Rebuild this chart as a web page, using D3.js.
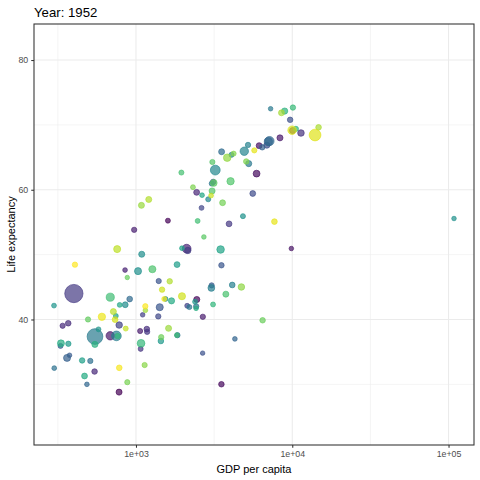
<!DOCTYPE html>
<html>
<head>
<meta charset="utf-8">
<script src="https://cdn.jsdelivr.net/npm/d3@7"></script>
<style>
  body { margin: 0; background: #fff; }
  svg { display: block; font-family: "Liberation Sans", Arial, sans-serif; }
</style>
</head>
<body>
<div id="chart"></div>
<script>
// gapminder, year 1952 (countries in alphabetical order)
var countries = ["Afghanistan","Albania","Algeria","Angola","Argentina","Australia","Austria","Bahrain","Bangladesh","Belgium",
  "Benin","Bolivia","Bosnia and Herzegovina","Botswana","Brazil","Bulgaria","Burkina Faso","Burundi","Cambodia","Cameroon",
  "Canada","Central African Republic","Chad","Chile","China","Colombia","Comoros","Congo, Dem. Rep.","Congo, Rep.","Costa Rica",
  "Cote d'Ivoire","Croatia","Cuba","Czech Republic","Denmark","Djibouti","Dominican Republic","Ecuador","Egypt","El Salvador",
  "Equatorial Guinea","Eritrea","Ethiopia","Finland","France","Gabon","Gambia","Germany","Ghana","Greece",
  "Guatemala","Guinea","Guinea-Bissau","Haiti","Honduras","Hong Kong, China","Hungary","Iceland","India","Indonesia",
  "Iran","Iraq","Ireland","Israel","Italy","Jamaica","Japan","Jordan","Kenya","Korea, Dem. Rep.",
  "Korea, Rep.","Kuwait","Lebanon","Lesotho","Liberia","Libya","Madagascar","Malawi","Malaysia","Mali",
  "Mauritania","Mauritius","Mexico","Mongolia","Montenegro","Morocco","Mozambique","Myanmar","Namibia","Nepal",
  "Netherlands","New Zealand","Nicaragua","Niger","Nigeria","Norway","Oman","Pakistan","Panama","Paraguay",
  "Peru","Philippines","Poland","Portugal","Puerto Rico","Reunion","Romania","Rwanda","Sao Tome and Principe","Saudi Arabia",
  "Senegal","Serbia","Sierra Leone","Singapore","Slovak Republic","Slovenia","Somalia","South Africa","Spain","Sri Lanka",
  "Sudan","Swaziland","Sweden","Switzerland","Syria","Taiwan","Tanzania","Thailand","Togo","Trinidad and Tobago",
  "Tunisia","Turkey","Uganda","United Kingdom","United States","Uruguay","Venezuela","Vietnam","West Bank and Gaza","Yemen, Rep.",
  "Zambia","Zimbabwe"];

var gdpPercap = [779.4,1601.1,2449.0,3520.6,5911.3,10039.6,6137.1,9867.1,684.2,8343.1,
  1062.8,2677.3,973.5,851.2,2108.9,2444.3,543.3,339.3,368.5,1172.7,
  11367.2,1071.3,1178.7,3940.0,400.4,2144.1,1103.0,780.5,2125.6,2627.0,
  1388.6,3119.2,5586.5,6876.1,9692.4,2669.5,1397.7,3522.1,1418.8,3048.3,
  375.6,328.9,362.1,6424.5,7029.8,4293.5,485.2,7144.1,911.3,3530.7,
  2428.2,510.2,299.9,1840.4,2194.9,3054.4,5263.7,7267.7,546.6,749.7,
  3035.3,4129.8,5210.3,4086.5,4931.4,2898.5,3217.0,1546.9,853.5,1088.3,
  1030.6,108382.4,4834.8,298.8,575.6,2387.5,1443.0,369.2,1831.1,452.3,
  743.1,1968.0,3478.1,786.6,2647.6,1688.2,468.5,331.0,2423.8,545.9,
  8941.6,10556.6,3112.4,761.9,1077.3,10095.4,1828.2,684.6,2480.4,1952.3,
  3758.5,1272.9,4029.3,3068.3,3082.0,2718.9,3144.6,493.3,879.6,6459.6,
  1450.4,3581.5,879.8,2315.1,5074.7,4215.0,1135.7,4725.3,3834.0,1083.5,
  1616.0,1148.4,8527.8,14734.2,1643.5,1206.9,716.7,757.8,859.8,3023.3,
  1468.5,1969.1,734.8,9979.5,13990.5,5716.8,7689.8,605.1,1515.6,781.7,
  1147.4,406.9];

var lifeExp = [28.801,55.23,43.077,30.015,62.485,69.12,66.8,50.939,37.484,68.0,
  38.223,40.414,53.82,47.622,50.917,59.6,31.975,39.031,39.417,38.523,
  68.75,35.463,38.092,54.745,44.0,50.643,40.715,39.143,42.111,57.206,
  40.477,61.21,59.421,66.87,70.78,34.812,45.928,48.357,41.893,45.262,
  34.482,35.928,34.078,66.55,67.41,37.003,30.0,67.5,43.149,65.86,
  42.023,33.609,32.5,37.579,41.912,60.96,64.03,72.49,37.373,37.468,
  44.869,45.32,66.91,65.39,65.94,58.53,63.03,43.158,42.27,50.056,
  47.453,55.565,55.928,42.138,38.48,42.723,36.681,36.256,48.463,33.685,
  40.543,50.986,50.789,42.244,59.164,42.873,31.286,36.319,41.725,36.157,
  72.13,69.39,42.314,37.444,36.324,72.67,37.578,43.436,55.191,62.649,
  43.902,47.752,61.31,59.82,64.28,52.724,61.05,40.0,46.471,39.875,
  37.278,57.996,30.331,60.396,64.36,65.57,32.978,45.009,64.94,57.593,
  38.635,41.407,71.86,69.62,45.883,58.5,41.215,50.848,38.596,59.1,
  44.6,43.585,39.978,69.18,68.44,66.071,55.088,40.412,43.16,32.548,
  42.038,48.451];

var pop = [8425333,1282697,9279525,4232095,17876956,8691212,6927772,120447,46886859,8730405,
  1738315,2883315,2791000,442308,56602560,7274900,4469979,2445618,4693836,5009067,
  14785584,1291695,2682462,6377619,556263527,12350771,153936,14100005,854885,926317,
  2977019,3882229,6007797,9125183,4334000,63149,2491346,3548753,22223309,2042865,
  216964,1438760,20860941,4090500,42459667,420702,284320,69145952,5581001,7733250,
  3146381,2664249,580653,3201488,1517453,2125900,9504000,147962,372000000,82052000,
  17272000,5441766,2952156,1620914,47666000,1426095,86459025,607914,6464046,8865488,
  20947571,160000,1439529,748747,863308,1019729,4762912,2917802,6748378,3838168,
  1022556,516556,30144317,800663,413834,9939217,6446316,20092996,485831,9182536,
  10381988,1994794,1165790,3379468,33119096,3327728,507833,41346560,940080,1555876,
  8025700,22438691,25730551,8526050,2227000,257700,16630000,2534927,60011,4005677,
  2755589,6860147,2143249,1127000,3558137,1489518,2526994,14264935,28549870,7982342,
  8504667,290243,7124673,4815000,3661549,8550362,8322925,21289402,1219113,662850,
  3647735,22235677,5824797,50430000,157553000,2252965,5439568,26246839,1030585,4963829,
  2672000,3080907];

// limits shared over all years of the animation
var lifeExpLimits = [23.599, 82.603];
var popLimits = [60011, 1318683096];

var xTicks = [1e3, 1e4, 1e5];
var xMinor = [Math.pow(10, 2.5), Math.pow(10, 3.5), Math.pow(10, 4.5)];
var yTicks = [40, 60, 80];
var yMinor = [30, 50, 70];

var W = 480, H = 480;
var margin = {top: 24, right: 6, bottom: 35, left: 34};
var pw = W - margin.left - margin.right;
var ph = H - margin.top - margin.bottom;

var data = countries.map((c, i) => ({country: c, gdp: gdpPercap[i], life: lifeExp[i], pop: pop[i], idx: i}));

// ggplot-ish 5% expansion
var lx = d3.extent(gdpPercap, d => Math.log10(d));
var ex = (lx[1] - lx[0]) * 0.05;
var ey = (lifeExpLimits[1] - lifeExpLimits[0]) * 0.05;

var x = d3.scaleLog()
  .domain([Math.pow(10, lx[0] - ex), Math.pow(10, lx[1] + ex)])
  .range([0, pw]);
var y = d3.scaleLinear()
  .domain([lifeExpLimits[0] - ey, lifeExpLimits[1] + ey])
  .range([ph, 0]);

// scale_size(range = c(2, 12)) -> area scale, then mm -> px
var sizeS = d3.scaleSqrt().domain(popLimits).range([2, 12]);
var radius = d => (sizeS(d.pop) * 2.134 + 0.2) / 2;
var color = d3.scaleSequential(d3.interpolateViridis).domain([0, countries.length - 1]);

var svg = d3.select("#chart").append("svg")
  .attr("width", W)
  .attr("height", H);

var g = svg.append("g")
  .attr("transform", `translate(${margin.left},${margin.top})`);

// grid
g.selectAll(".xminor").data(xMinor).enter().append("line")
  .attr("x1", d => x(d)).attr("x2", d => x(d)).attr("y1", 0).attr("y2", ph)
  .attr("stroke", "#ebebeb").attr("stroke-width", 0.55);
g.selectAll(".yminor").data(yMinor).enter().append("line")
  .attr("x1", 0).attr("x2", pw).attr("y1", d => y(d)).attr("y2", d => y(d))
  .attr("stroke", "#ebebeb").attr("stroke-width", 0.55);
g.selectAll(".xmajor").data(xTicks).enter().append("line")
  .attr("x1", d => x(d)).attr("x2", d => x(d)).attr("y1", 0).attr("y2", ph)
  .attr("stroke", "#ebebeb").attr("stroke-width", 1.07);
g.selectAll(".ymajor").data(yTicks).enter().append("line")
  .attr("x1", 0).attr("x2", pw).attr("y1", d => y(d)).attr("y2", d => y(d))
  .attr("stroke", "#ebebeb").attr("stroke-width", 1.07);

// points: fill and border both at alpha 0.7, like geom_point
g.selectAll("circle")
  .data(data)
  .enter()
  .append("circle")
  .attr("cx", d => x(d.gdp))
  .attr("cy", d => y(d.life))
  .attr("r", radius)
  .attr("fill", d => color(d.idx))
  .attr("fill-opacity", 0.7)
  .attr("stroke", d => color(d.idx))
  .attr("stroke-opacity", 0.7)
  .attr("stroke-width", 0.9);

// panel border
g.append("rect")
  .attr("x", 0).attr("y", 0).attr("width", pw).attr("height", ph)
  .attr("fill", "none").attr("stroke", "#333333").attr("stroke-width", 1.07);

// axes
var xAxis = g.append("g")
  .attr("transform", `translate(0,${ph})`)
  .call(d3.axisBottom(x).tickValues(xTicks).tickSize(2.75).tickPadding(3)
    .tickFormat(d => "1e+0" + Math.round(Math.log10(d))));
var yAxis = g.append("g")
  .call(d3.axisLeft(y).tickValues(yTicks).tickSize(2.75).tickPadding(3));

[xAxis, yAxis].forEach(a => {
  a.select(".domain").remove();
  a.selectAll(".tick line").attr("stroke", "#333333").attr("stroke-width", 1.07);
  a.selectAll(".tick text").attr("fill", "#4d4d4d")
    .style("font-size", "8.8px").style("font-family", "Liberation Sans, Arial, sans-serif");
});

// titles
svg.append("text")
  .attr("x", margin.left)
  .attr("y", 17)
  .attr("font-size", "13.2px")
  .attr("fill", "#000")
  .text("Year: 1952");

svg.append("text")
  .attr("x", margin.left + pw / 2)
  .attr("y", 473)
  .attr("text-anchor", "middle")
  .attr("font-size", "11px")
  .text("GDP per capita");

svg.append("text")
  .attr("transform", `translate(15,${margin.top + ph / 2}) rotate(-90)`)
  .attr("text-anchor", "middle")
  .attr("font-size", "11px")
  .text("Life expectancy");
</script>
</body>
</html>
